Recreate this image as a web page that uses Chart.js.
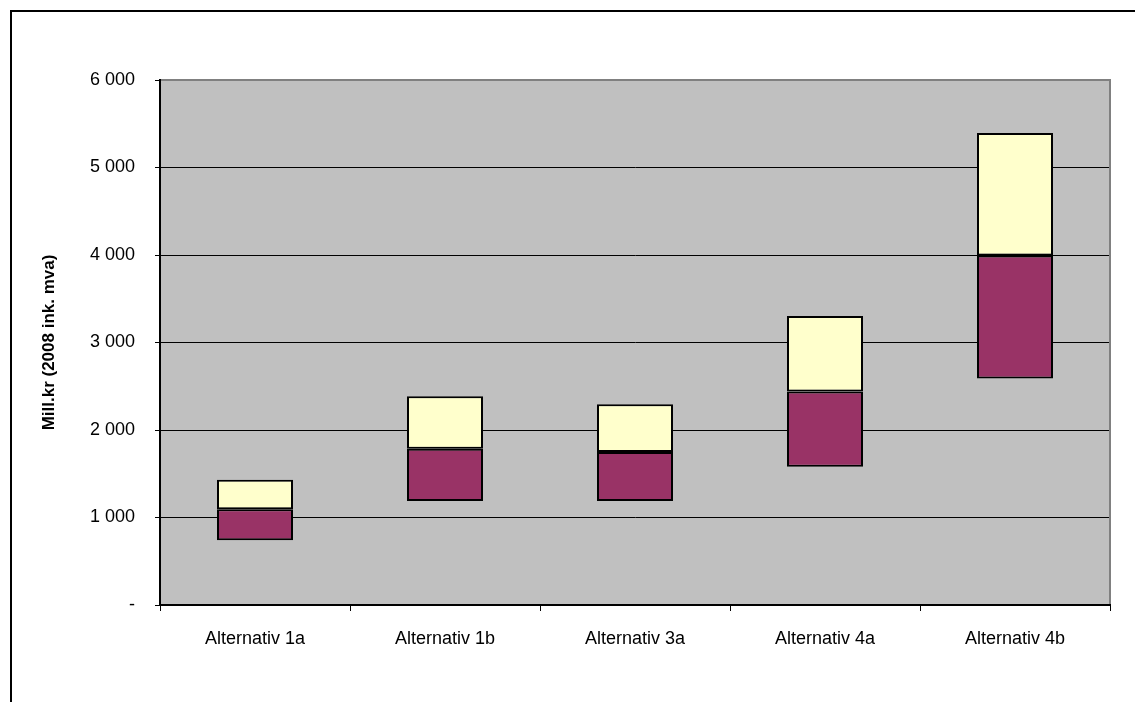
<!DOCTYPE html>
<html>
<head>
<meta charset="utf-8">
<style>
  html, body { margin: 0; padding: 0; background: #fff; }
  #wrap { position: relative; width: 1135px; height: 702px; overflow: hidden; }
  #frame { position: absolute; left: 10px; top: 10px; width: 1200px; height: 800px; border: 2px solid #000; box-sizing: border-box; }
  canvas { position: absolute; left: 0; top: 0; }
</style>
<script src="https://cdn.jsdelivr.net/npm/chart.js@4/dist/chart.umd.min.js"></script>
</head>
<body>
<div id="wrap">
  <div id="frame"></div>
  <canvas id="c" width="1135" height="702"></canvas>
</div>
<script>
// Cost ranges per alternative (mill. kr, 2008 incl. VAT)
const categories = ['Alternativ 1a', 'Alternativ 1b', 'Alternativ 3a', 'Alternativ 4a', 'Alternativ 4b'];
const lowValues  = [740, 1190, 1190, 1580, 2590];
const midValues  = [1095, 1785, 1750, 2440, 3995];
const highValues = [1432, 2387, 2294, 3302, 5393];
const yTicks = [0, 1000, 2000, 3000, 4000, 5000, 6000];
const yTitle = 'Mill.kr (2008 ink. mva)';

const lowerRange = categories.map((_, i) => [lowValues[i], midValues[i]]);
const upperRange = categories.map((_, i) => [midValues[i], highValues[i]]);

function fmt(v) {
  if (v === 0) return '-';
  return String(v).replace(/\B(?=(\d{3})+(?!\d))/g, ' ');
}

// Gray plot background with Excel-style frame
const plotArea = {
  id: 'plotArea',
  beforeDraw(chart) {
    const { ctx, chartArea: a } = chart;
    ctx.save();
    ctx.fillStyle = '#C0C0C0';
    ctx.fillRect(a.left, a.top, a.right - a.left, a.bottom - a.top);
    ctx.restore();
  },
  afterDatasetsDraw(chart) {
    const { ctx, chartArea: a } = chart;
    ctx.save();
    ctx.strokeStyle = '#808080';
    ctx.lineWidth = 2;
    ctx.beginPath();
    ctx.moveTo(a.left + 1, a.top);
    ctx.lineTo(a.right, a.top);
    ctx.lineTo(a.right, a.bottom - 1);
    ctx.stroke();
    ctx.restore();
  }
};

const font = { family: 'Liberation Sans, Arial', size: 18 };

new Chart(document.getElementById('c'), {
  type: 'bar',
  data: {
    labels: categories,
    datasets: [
      { data: lowerRange, backgroundColor: '#993366', borderColor: '#000', borderWidth: 2, borderSkipped: false, grouped: false },
      { data: upperRange, backgroundColor: '#FFFFCC', borderColor: '#000', borderWidth: 2, borderSkipped: false, grouped: false }
    ]
  },
  options: {
    responsive: false,
    animation: false,
    devicePixelRatio: 1,
    layout: { padding: { left: 0, top: 80, right: 25, bottom: 0 } },
    plugins: { legend: { display: false }, tooltip: { enabled: false } },
    datasets: { bar: { categoryPercentage: 0.4, barPercentage: 1 } },
    scales: {
      x: {
        offset: true,
        grid: { offset: true, drawOnChartArea: false, drawTicks: true, tickLength: 6, color: '#000', lineWidth: 1 },
        border: { color: '#000', width: 2 },
        ticks: { color: '#000', font, padding: 17, maxRotation: 0 },
        afterFit(s) { s.height = 97; }
      },
      y: {
        min: 0, max: 6000,
        afterBuildTicks(s) { s.ticks = yTicks.map(v => ({ value: v })); },
        grid: { color: '#000', lineWidth: 1, drawTicks: true, tickLength: 5 },
        border: { color: '#000', width: 2 },
        ticks: { color: '#000', font, padding: 20, callback: v => fmt(v) },
        title: { display: true, text: yTitle, color: '#000', font: { family: 'Liberation Sans, Arial', size: 17, weight: 'bold' }, padding: { top: 39, bottom: 0 } },
        afterFit(s) { s.width = 160; }
      }
    }
  },
  plugins: [plotArea]
});
</script>
</body>
</html>
